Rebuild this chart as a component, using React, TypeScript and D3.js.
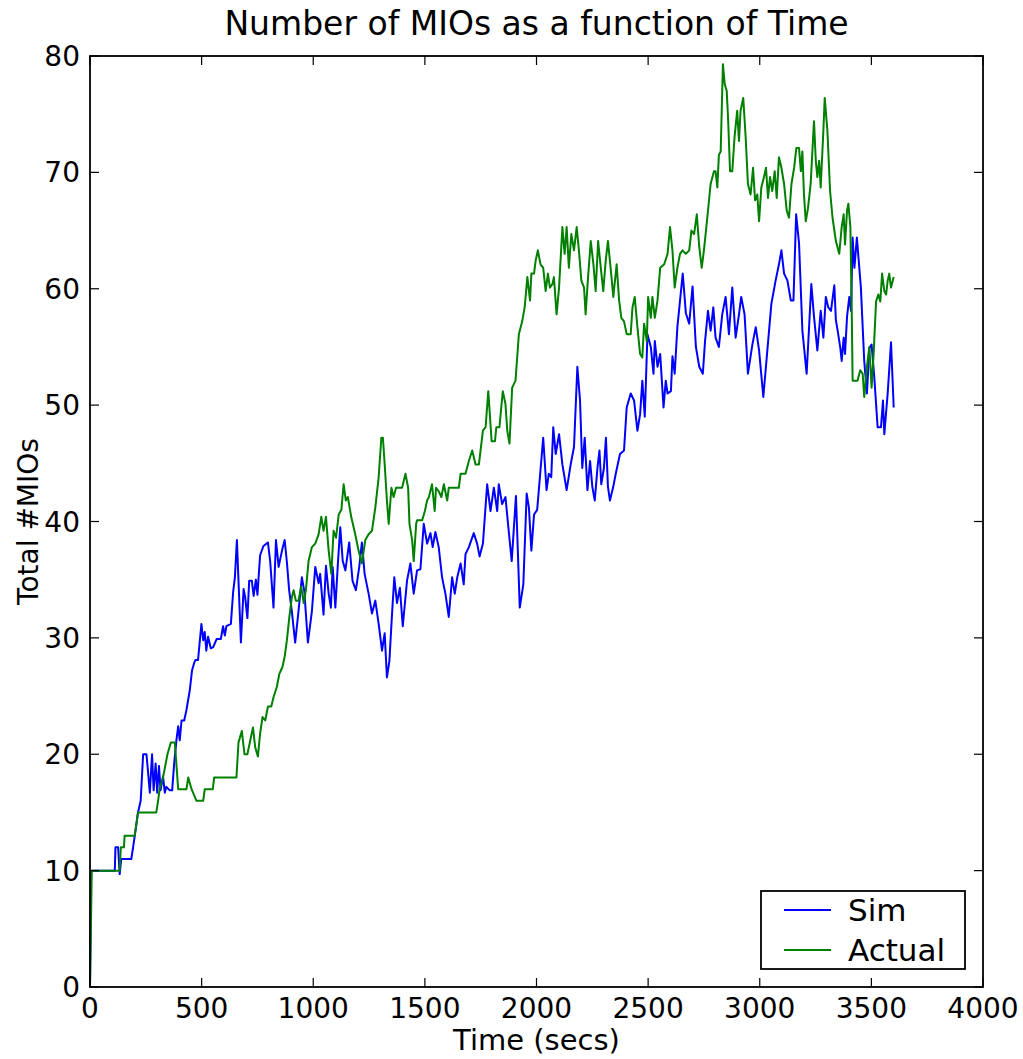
import React from 'react';
import * as d3 from 'd3';

// Sim series (seconds, #MIOs)
const simTime = [0, 5, 111, 114, 126, 133, 140, 185, 193, 208, 215, 227, 238, 253, 268, 278, 285, 294, 301, 309, 316, 327, 335, 342, 357, 368, 377, 387, 395, 402, 410, 422, 432, 447, 457, 466, 472, 484, 499, 507, 514, 521, 529, 541, 552, 567, 586, 596, 604, 611, 631, 641, 649, 658, 676, 688, 695, 705, 713, 725, 733, 743, 750, 762, 777, 797, 807, 822, 833, 845, 860, 872, 882, 892, 904, 919, 934, 949, 960, 976, 994, 1009, 1024, 1031, 1046, 1057, 1069, 1079, 1087, 1099, 1111, 1121, 1132, 1144, 1161, 1176, 1191, 1206, 1218, 1230, 1248, 1263, 1278, 1293, 1308, 1320, 1330, 1341, 1353, 1363, 1375, 1388, 1401, 1420, 1435, 1450, 1465, 1480, 1495, 1510, 1525, 1535, 1547, 1562, 1577, 1592, 1607, 1622, 1634, 1645, 1660, 1674, 1682, 1697, 1719, 1734, 1745, 1760, 1779, 1794, 1809, 1824, 1831, 1846, 1861, 1876, 1889, 1908, 1925, 1941, 1956, 1966, 1977, 1989, 2003, 2030, 2045, 2055, 2066, 2075, 2086, 2101, 2116, 2135, 2153, 2168, 2183, 2195, 2205, 2216, 2228, 2240, 2250, 2261, 2273, 2282, 2290, 2302, 2311, 2320, 2329, 2344, 2355, 2374, 2392, 2404, 2422, 2437, 2452, 2464, 2474, 2485, 2497, 2512, 2524, 2530, 2542, 2554, 2569, 2579, 2587, 2602, 2609, 2619, 2631, 2643, 2655, 2669, 2684, 2699, 2714, 2729, 2745, 2755, 2768, 2780, 2792, 2802, 2817, 2832, 2847, 2862, 2877, 2892, 2907, 2917, 2932, 2947, 2967, 2982, 2997, 3016, 3034, 3052, 3071, 3086, 3097, 3109, 3124, 3139, 3151, 3163, 3176, 3191, 3210, 3231, 3243, 3258, 3273, 3285, 3296, 3307, 3319, 3334, 3341, 3349, 3361, 3367, 3376, 3382, 3391, 3401, 3409, 3416, 3424, 3435, 3453, 3468, 3480, 3491, 3501, 3513, 3528, 3543, 3552, 3558, 3573, 3588, 3600];
const simValue = [0, 10, 10, 12, 12, 9.7, 11, 11, 12, 14, 15, 16, 20, 20, 16.7, 20, 16.9, 19.2, 16.7, 19, 16.9, 18.1, 16.7, 17.2, 16.9, 16.9, 19.2, 21.2, 22.4, 21.2, 22.9, 22.9, 23.8, 25.5, 27.2, 27.8, 28.1, 28.1, 31.2, 29.8, 30.5, 28.9, 30.1, 29.1, 29.2, 29.9, 29.9, 31, 30.2, 31, 31.2, 33.9, 35.2, 38.4, 29.6, 34.2, 33.5, 31.7, 34.9, 34.9, 33.6, 35, 33.7, 37.1, 37.9, 38.2, 36.6, 32.6, 38.4, 36.1, 37.5, 38.4, 36.5, 34.1, 32.3, 29.6, 32.3, 35.2, 34, 29.6, 32.3, 36.1, 34.7, 35.5, 32, 36.2, 33.8, 32.6, 36.1, 32.6, 36.6, 39.5, 36.6, 35.8, 38.2, 34.9, 34.1, 36.1, 38.2, 35.5, 33.8, 32.1, 33.2, 31.2, 28.9, 30.4, 26.6, 28, 32.1, 35.2, 33, 34.3, 31, 34.9, 36.4, 33.8, 35.8, 35.9, 39.8, 38.1, 39, 37.8, 39.1, 37.8, 35.2, 33.8, 31.8, 35.2, 33.8, 35.2, 36.4, 34.6, 37.2, 37.8, 39, 38.1, 37, 38.1, 43.2, 40.9, 42.9, 40.9, 43.2, 41.5, 42.1, 39.1, 36.6, 42.2, 32.6, 34.6, 42.4, 41.2, 37.5, 40.6, 41, 47.2, 42.7, 44.1, 43.8, 48.1, 45.8, 47.5, 44.9, 42.7, 44.9, 46.4, 53.3, 50.4, 44.6, 47.2, 42.7, 45.2, 43, 41.8, 44.6, 46.1, 43.2, 44.6, 47.2, 43, 41.8, 43, 44.1, 45.8, 46.1, 49.8, 51, 50.4, 47.8, 49.2, 52.1, 49, 56.1, 55, 52.7, 55.5, 53.3, 54.4, 49.8, 52.1, 51, 51.2, 54.2, 52.7, 56.7, 59, 61.3, 57.9, 57, 60.2, 55, 53.3, 52.7, 55.5, 58.1, 56.4, 58.4, 55.8, 55, 57.8, 59.3, 56.1, 60.1, 55.8, 57.8, 59.3, 57.8, 52.7, 55.2, 56.7, 54.7, 50.7, 54.7, 58.7, 60.7, 62.1, 63.3, 61.3, 60.7, 59, 59, 66.4, 63.9, 56.4, 52.7, 60.4, 57.6, 54.7, 58.1, 55.8, 59.3, 58.4, 58.1, 60.3, 57.3, 56.4, 54.9, 53.8, 55.8, 54.4, 57.6, 59.3, 58.1, 64.4, 61.8, 64.4, 60.1, 53.8, 51, 54.9, 55.2, 52.4, 48.1, 48.1, 50.4, 47.5, 51, 55.4, 49.8];

// Actual series (seconds, #MIOs)
const actualTime = [0, 8, 133, 138, 152, 155, 200, 215, 297, 305, 312, 327, 347, 362, 380, 395, 432, 440, 455, 477, 507, 514, 550, 556, 656, 665, 680, 692, 705, 718, 730, 740, 752, 762, 773, 785, 797, 812, 822, 837, 848, 862, 872, 882, 893, 904, 912, 922, 934, 946, 957, 967, 979, 994, 1009, 1024, 1036, 1046, 1057, 1069, 1081, 1091, 1102, 1114, 1126, 1136, 1146, 1155, 1170, 1188, 1203, 1218, 1233, 1248, 1263, 1278, 1293, 1305, 1312, 1320, 1330, 1338, 1350, 1360, 1371, 1398, 1413, 1425, 1431, 1443, 1450, 1461, 1465, 1488, 1500, 1510, 1518, 1532, 1544, 1550, 1562, 1574, 1585, 1600, 1607, 1652, 1660, 1682, 1697, 1712, 1727, 1742, 1760, 1772, 1784, 1799, 1814, 1820, 1834, 1849, 1861, 1869, 1879, 1891, 1906, 1921, 1936, 1947, 1959, 1971, 1977, 1989, 1996, 2006, 2018, 2030, 2041, 2051, 2060, 2071, 2078, 2090, 2101, 2116, 2126, 2135, 2145, 2156, 2168, 2180, 2190, 2201, 2213, 2220, 2231, 2243, 2255, 2265, 2276, 2288, 2299, 2310, 2320, 2332, 2344, 2359, 2370, 2380, 2392, 2404, 2422, 2430, 2440, 2452, 2464, 2474, 2482, 2494, 2500, 2512, 2519, 2530, 2542, 2554, 2572, 2587, 2598, 2609, 2619, 2631, 2643, 2654, 2669, 2684, 2694, 2706, 2718, 2729, 2740, 2750, 2765, 2780, 2795, 2802, 2810, 2817, 2825, 2835, 2843, 2852, 2858, 2867, 2877, 2887, 2899, 2907, 2914, 2926, 2937, 2947, 2959, 2970, 2979, 2989, 2997, 3007, 3019, 3028, 3037, 3046, 3056, 3067, 3076, 3086, 3097, 3109, 3121, 3131, 3142, 3154, 3164, 3176, 3184, 3191, 3198, 3206, 3216, 3228, 3243, 3251, 3258, 3266, 3273, 3285, 3291, 3303, 3315, 3326, 3341, 3356, 3367, 3376, 3382, 3391, 3397, 3406, 3412, 3416, 3438, 3450, 3461, 3468, 3480, 3491, 3501, 3510, 3521, 3531, 3540, 3548, 3558, 3566, 3573, 3580, 3588, 3600];
const actualValue = [0, 10, 10, 12, 12, 13, 13, 15, 15, 16, 17, 18, 20, 21, 21, 17, 17, 18, 17, 16, 16, 17, 17, 18, 18, 21, 22, 20, 20, 21.2, 22.3, 20.6, 19.8, 21.8, 23.2, 22.9, 24.1, 24.1, 24.9, 25.8, 26.9, 27.5, 28.4, 29.8, 31.8, 33.5, 34.1, 33.2, 33.2, 34.4, 33, 34.1, 36.6, 37.8, 38.1, 38.9, 40.4, 39.2, 40.4, 37.5, 35.5, 39.2, 38.6, 40.6, 41, 43.2, 41.8, 42.1, 40.4, 38.9, 37.5, 36.4, 38.4, 38.9, 39.2, 41.2, 43.8, 47.2, 47.2, 44.9, 41.8, 39.8, 42.9, 42.1, 42.9, 42.9, 44.1, 42.9, 39.8, 38.4, 36.6, 39.8, 40.1, 40.1, 40.9, 41.8, 42.1, 43.2, 40.9, 42.9, 42.6, 42.1, 43.2, 41.8, 42.9, 42.9, 44.1, 44.1, 45.2, 46.1, 44.9, 44.9, 47.8, 48.1, 51.2, 46.9, 46.9, 48.1, 48.1, 51.2, 50.1, 47.8, 46.7, 51.5, 52.1, 56.1, 57.2, 58.4, 61, 59, 61.3, 61.3, 62.4, 63.3, 62.1, 61.8, 59.8, 61.3, 60.1, 60.4, 61, 57.8, 60.1, 65.3, 63, 65.3, 61.8, 64.7, 63.3, 65.3, 63.3, 60.7, 60.1, 57.8, 61, 64.1, 62.1, 59.8, 64.1, 61.8, 59.8, 62.4, 64.1, 61.8, 59.3, 62.1, 59, 57.5, 57.2, 56.1, 56.1, 58.4, 59.3, 56.7, 54.4, 54.1, 57, 55.5, 59.3, 57.5, 59.3, 57.5, 59, 61.8, 62.1, 63, 65.3, 63.3, 60.1, 61.8, 63, 63.3, 63, 63.3, 65, 64.7, 66.4, 63.6, 61.8, 63.3, 66.1, 69, 70.1, 70.1, 68.7, 71.5, 71.8, 79.3, 77.6, 77, 74.7, 70.1, 70.1, 73, 75.3, 72.7, 75.3, 76.4, 73, 69, 68.1, 70.4, 67.6, 68.1, 65.8, 68.7, 69.6, 70.4, 67.8, 69.6, 68.4, 70.1, 67.8, 71.3, 70.4, 69, 66.7, 66.1, 69, 70.4, 72.1, 72.1, 70.1, 71.8, 68.1, 65.8, 66.9, 69, 74.4, 71, 69.6, 71, 68.7, 73.6, 76.4, 73.6, 68.4, 66.1, 64.1, 63, 65.3, 66.4, 63.8, 66.7, 67.3, 65.3, 58.1, 52.1, 52.1, 53, 52.7, 50.7, 53.3, 55, 51.5, 54.4, 58.9, 59.5, 58.9, 61.3, 59.8, 59.5, 60.7, 61.3, 60.1, 61];

const xTicks = [0, 500, 1000, 1500, 2000, 2500, 3000, 3500, 4000];
const yTicks = [0, 10, 20, 30, 40, 50, 60, 70, 80];

const W = 1023;
const H = 1059;
const margin = { left: 90, right: 40, top: 56, bottom: 72 };
const FONT = 'DejaVu Sans, Verdana, sans-serif';

export default function App() {
  const x = d3.scaleLinear().domain([0, 4000]).range([margin.left, W - margin.right]);
  const y = d3.scaleLinear().domain([0, 80]).range([H - margin.bottom, margin.top]);

  const line = d3
    .line<[number, number]>()
    .x((d) => x(d[0]))
    .y((d) => y(d[1]));

  const sim = simTime.map((t, i) => [t, simValue[i]] as [number, number]);
  const actual = actualTime.map((t, i) => [t, actualValue[i]] as [number, number]);

  const x0 = x(0), x1 = x(4000), y0 = y(0), y1 = y(80);
  const tickLen = 9;

  return (
    <svg width={W} height={H} style={{ position: 'absolute', left: 0, top: 0, background: '#fff' }}>
      <rect x={0} y={0} width={W} height={H} fill="#fff" />
      <path d={line(sim) || ''} fill="none" stroke="#0000ff" strokeWidth={2} strokeLinejoin="round" />
      <path d={line(actual) || ''} fill="none" stroke="#008000" strokeWidth={2} strokeLinejoin="round" />

      {/* ticks (inward, all four sides) */}
      {xTicks.map((t) => (
        <g key={'x' + t}>
          <line x1={x(t)} x2={x(t)} y1={y0} y2={y0 - tickLen} stroke="#000" strokeWidth={1.2} />
          <line x1={x(t)} x2={x(t)} y1={y1} y2={y1 + tickLen} stroke="#000" strokeWidth={1.2} />
          <text x={x(t)} y={1018} textAnchor="middle" fontFamily={FONT} fontSize={28}>{t}</text>
        </g>
      ))}
      {yTicks.map((t) => (
        <g key={'y' + t}>
          <line x1={x0} x2={x0 + tickLen} y1={y(t)} y2={y(t)} stroke="#000" strokeWidth={1.2} />
          <line x1={x1} x2={x1 - tickLen} y1={y(t)} y2={y(t)} stroke="#000" strokeWidth={1.2} />
          <text x={80} y={y(t) + 10} textAnchor="end" fontFamily={FONT} fontSize={28}>{t}</text>
        </g>
      ))}

      <rect x={x0} y={y1} width={x1 - x0} height={y0 - y1} fill="none" stroke="#000" strokeWidth={1.8} />

      <text x={(x0 + x1) / 2} y={35} textAnchor="middle" fontFamily={FONT} fontSize={33}>
        Number of MIOs as a function of Time
      </text>
      <text x={(x0 + x1) / 2} y={1050} textAnchor="middle" fontFamily={FONT} fontSize={29}>
        Time (secs)
      </text>
      <text transform={`translate(38,${(y0 + y1) / 2}) rotate(-90)`} textAnchor="middle" fontFamily={FONT} fontSize={28}>
        Total #MIOs
      </text>

      {/* legend */}
      <g>
        <rect x={761} y={891} width={204} height={78} fill="#fff" stroke="#000" strokeWidth={1.8} />
        <line x1={784} x2={831} y1={910} y2={910} stroke="#0000ff" strokeWidth={2} />
        <line x1={784} x2={831} y1={950} y2={950} stroke="#008000" strokeWidth={2} />
        <text x={848} y={921} fontFamily={FONT} fontSize={31}>Sim</text>
        <text x={848} y={961} fontFamily={FONT} fontSize={31}>Actual</text>
      </g>
    </svg>
  );
}
